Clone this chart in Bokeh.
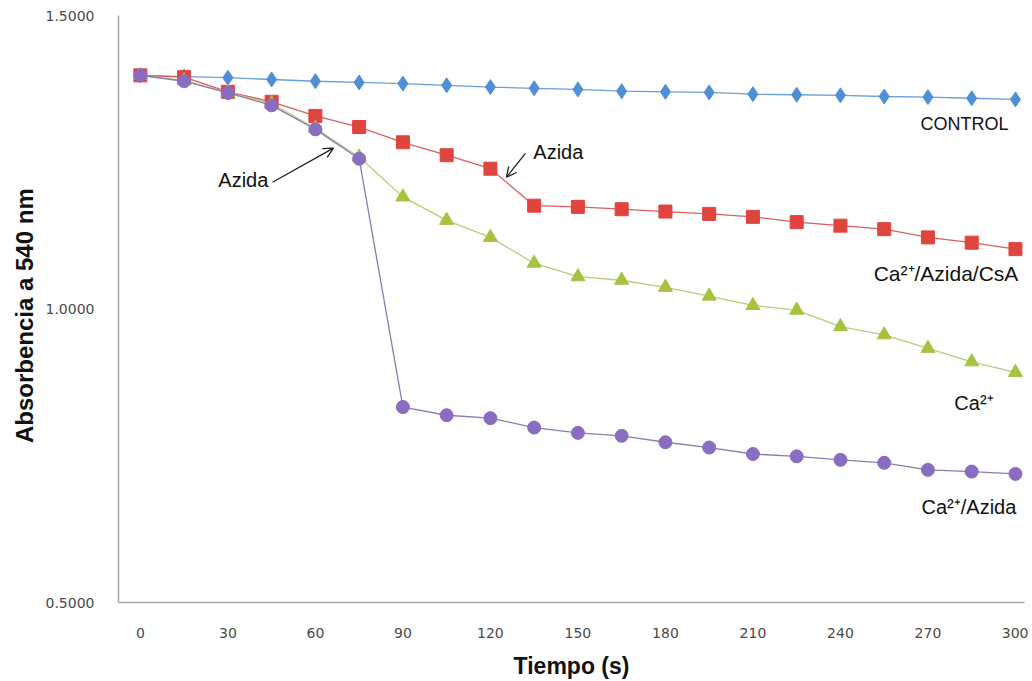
from bokeh.plotting import figure
from bokeh.models import FixedTicker, Label, Arrow, OpenHead, Range1d
from bokeh.embed import file_html
from bokeh.resources import INLINE

tiempo = [0, 15, 30, 45, 60, 75, 90, 105, 120, 135, 150, 165, 180, 195, 210, 225, 240, 255, 270, 285, 300]
control = [1.398, 1.396, 1.394, 1.391, 1.388, 1.386, 1.384, 1.381, 1.378, 1.376, 1.374,
           1.371, 1.370, 1.369, 1.366, 1.365, 1.364, 1.362, 1.361, 1.359, 1.357]
ca_azida_csa = [1.398, 1.395, 1.370, 1.353, 1.329, 1.310, 1.284, 1.262, 1.239, 1.176, 1.174,
                1.170, 1.166, 1.162, 1.157, 1.148, 1.142, 1.136, 1.122, 1.113, 1.102]
ca = [1.398, 1.389, 1.369, 1.350, 1.308, 1.259, 1.191, 1.151, 1.122, 1.078, 1.055,
      1.049, 1.037, 1.022, 1.006, 0.998, 0.970, 0.956, 0.933, 0.910, 0.892]
ca_azida = [1.398, 1.388, 1.368, 1.347, 1.306, 1.256, 0.833, 0.819, 0.814, 0.798, 0.789,
            0.784, 0.773, 0.764, 0.753, 0.749, 0.743, 0.738, 0.726, 0.723, 0.719]
x_ticks = [0, 30, 60, 90, 120, 150, 180, 210, 240, 270, 300]
y_ticks = [0.5, 1.0, 1.5]

p = figure(width=1028, height=681, output_backend="svg", toolbar_location=None,
           x_range=Range1d(-7.5, 303.1), y_range=Range1d(0.5, 1.5),
           min_border_left=118, min_border_right=4, min_border_top=15, min_border_bottom=76)
p.outline_line_color = None
p.xgrid.visible = False
p.ygrid.visible = False

for ax in (p.xaxis[0], p.yaxis[0]):
    ax.axis_line_color = "#a6a6a6"
    ax.axis_line_width = 1.5
    ax.major_tick_line_color = None
    ax.minor_tick_line_color = None
    ax.major_label_text_font = "DejaVu Sans"
    ax.major_label_text_font_size = "14px"
    ax.major_label_text_color = "#4a4a4a"
    ax.axis_label_text_font = "Liberation Sans"
    ax.axis_label_text_font_style = "bold"
    ax.axis_label_text_color = "#111111"

p.xaxis.ticker = FixedTicker(ticks=x_ticks)
p.yaxis.ticker = FixedTicker(ticks=y_ticks)
p.xaxis.major_label_overrides = {t: str(t) for t in x_ticks}
p.yaxis.major_label_overrides = {t: f"{t:.4f}" for t in y_ticks}
p.xaxis.major_label_standoff = 19
p.yaxis.major_label_standoff = 18
p.xaxis.axis_label = "Tiempo (s)"
p.xaxis.axis_label_text_font_size = "23px"
p.xaxis.axis_label_standoff = 12
p.yaxis.axis_label = "Absorbencia  a  540 nm"
p.yaxis.axis_label_text_font_size = "24px"
p.yaxis.axis_label_standoff = 5

series = [
    (control, "#4f8fd6", "#6a9fd8", "diamond", 15),
    (ca_azida_csa, "#e0443f", "#d9605c", "square", 13),
    (ca, "#a6c240", "#b9cc7a", "triangle", 14),
    (ca_azida, "#8a6cc0", "#8c7bb0", "circle", 13),
]
for ys, mc, lc, marker, sz in series:
    p.line(tiempo, ys, line_color=lc, line_width=1.3)
    p.scatter(tiempo, ys, marker=marker, size=sz, fill_color=mc, line_color=mc)

def lab(x, y, text, align="left", size="20px"):
    p.add_layout(Label(x=x, y=y, text=text, text_align=align, text_baseline="middle",
                       text_font="Liberation Sans", text_font_size=size, text_color="#111111"))

lab(35.3, 1.219, "Azida", "center")
lab(134.7, 1.267, "Azida", "left")
lab(297.6, 1.315, "CONTROL", "right", "18px")
lab(301.0, 1.061, "Ca²⁺/Azida/CsA", "right", "21px")
lab(292.5, 0.840, "Ca²⁺", "right")
lab(300.3, 0.662, "Ca²⁺/Azida", "right")

p.add_layout(Arrow(x_start=45.3, y_start=1.216, x_end=66.2, y_end=1.274,
                   line_color="#222222", line_width=1.3,
                   end=OpenHead(size=10, line_color="#222222", line_width=1.3)))
p.add_layout(Arrow(x_start=132.0, y_start=1.265, x_end=125.5, y_end=1.2245,
                   line_color="#222222", line_width=1.3,
                   end=OpenHead(size=10, line_color="#222222", line_width=1.3)))

open("out.html", "w").write(file_html(p, INLINE))
